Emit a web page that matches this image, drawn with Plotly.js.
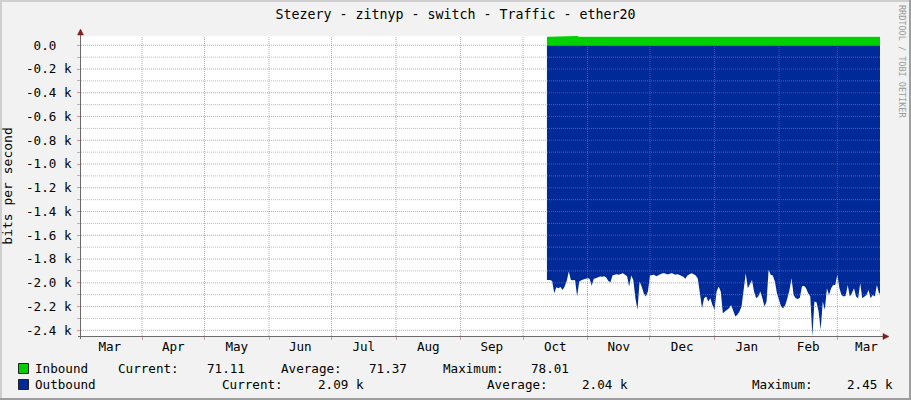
<!DOCTYPE html>
<html>
<head>
<meta charset="utf-8">
<script src="https://cdn.plot.ly/plotly-3.0.1.min.js"></script>
<style>
html,body{margin:0;padding:0;background:#F2F2F2;}
#chart{width:911px;height:400px;}
</style>
</head>
<body>
<div id="chart"></div>
<script>
// ---------------- data ----------------
const dates = [
"2022-10-12 12:00",
"2022-10-13","2022-10-14","2022-10-15","2022-10-16","2022-10-17","2022-10-18","2022-10-19","2022-10-20","2022-10-21","2022-10-22",
"2022-10-23","2022-10-24","2022-10-25","2022-10-26","2022-10-27","2022-10-28","2022-10-29","2022-10-30","2022-10-31",
"2022-11-01","2022-11-02","2022-11-03","2022-11-04","2022-11-05","2022-11-06","2022-11-07","2022-11-08","2022-11-09","2022-11-10",
"2022-11-11","2022-11-12","2022-11-13","2022-11-14","2022-11-15","2022-11-16","2022-11-17","2022-11-18","2022-11-19","2022-11-20",
"2022-11-21","2022-11-22","2022-11-23","2022-11-24","2022-11-25","2022-11-26","2022-11-27","2022-11-28","2022-11-29","2022-11-30",
"2022-12-01","2022-12-02","2022-12-03","2022-12-04","2022-12-05","2022-12-06","2022-12-07","2022-12-08","2022-12-09","2022-12-10",
"2022-12-11","2022-12-12","2022-12-13","2022-12-14","2022-12-15","2022-12-16","2022-12-17","2022-12-18","2022-12-19","2022-12-20",
"2022-12-21","2022-12-22","2022-12-23","2022-12-24","2022-12-25","2022-12-26","2022-12-27","2022-12-28","2022-12-29","2022-12-30","2022-12-31",
"2023-01-01","2023-01-02","2023-01-03","2023-01-04","2023-01-05","2023-01-06","2023-01-07","2023-01-08","2023-01-09","2023-01-10",
"2023-01-11","2023-01-12","2023-01-13","2023-01-14","2023-01-15","2023-01-16","2023-01-17","2023-01-18","2023-01-19","2023-01-20",
"2023-01-21","2023-01-22","2023-01-23","2023-01-24","2023-01-25","2023-01-26","2023-01-27","2023-01-28","2023-01-29","2023-01-30","2023-01-31",
"2023-02-01","2023-02-02","2023-02-03","2023-02-04","2023-02-05","2023-02-06","2023-02-07","2023-02-08","2023-02-09","2023-02-10",
"2023-02-11","2023-02-12","2023-02-13","2023-02-14","2023-02-15","2023-02-16","2023-02-17","2023-02-18","2023-02-19","2023-02-20",
"2023-02-21","2023-02-22","2023-02-23","2023-02-24","2023-02-25","2023-02-26","2023-02-27","2023-02-28",
"2023-03-01","2023-03-02","2023-03-03","2023-03-04","2023-03-05","2023-03-06","2023-03-07","2023-03-08","2023-03-09","2023-03-10",
"2023-03-11","2023-03-12","2023-03-13","2023-03-14","2023-03-15","2023-03-16","2023-03-17","2023-03-18","2023-03-19","2023-03-20","2023-03-21",
"2023-03-21 12:00"
];

const outbound = [
-1976,
-1976,-1976,-1984,-2088,-2037,-2045,-2035,-2060,-2032,-1984,-1905,-1976,-1979,-1976,-2116,-1990,-1979,-1970,-1967,
-1961,-1967,-2024,-1967,-1961,-1955,-1948,-1950,-1945,-1955,-1984,-1995,-1939,-1933,-1928,-1933,-1928,-1919,-1933,-1945,
-2032,-1939,-1976,-2130,-2228,-1990,-2032,-2088,-2116,-2074,
-1939,-1939,-1933,-1945,-1933,-1928,-1919,-1919,-1928,-1928,-1919,-1922,-1933,-1928,-1933,-1939,-1950,-1967,-1939,-1928,
-1919,-1928,-1939,-1967,-2074,-2214,-2130,-2116,-2158,-2130,-2186,
-2228,-2074,-2032,-2074,-2256,-2242,-2228,-2214,-2186,-2228,-2284,-2270,-2242,-2200,-2045,-1919,-2045,-2003,-1976,-2074,
-2130,-2116,-2074,-2130,-2200,-2158,-1891,-1933,-1939,-1990,-2088,
-2144,-2200,-2214,-2186,-2130,-2060,-1961,-2102,-2130,-2136,-2125,-2032,-2025,-2045,-2088,-2116,-2450,-2158,-2164,-2242,
-2396,-2158,-2228,-2045,-2102,-2045,-2018,-2018,
-1933,-2045,-2102,-2116,-2109,-2018,-2116,-2088,-2045,-2116,-2130,-2003,-2130,-2116,-2102,-2060,-2130,-2102,-2116,-2018,-2088,
-2090
];

const inbound = [
70.9,
71.2,70.8,71.5,71.0,71.3,70.9,71.6,71.1,70.7,71.4,71.2,71.0,71.3,71.5,78.0,71.2,70.9,71.1,71.4,
71.3,71.0,71.6,71.2,70.8,71.5,71.1,71.4,71.7,71.0,71.3,71.2,70.9,71.5,71.8,71.1,71.3,71.6,71.0,71.4,
71.2,71.7,71.3,70.9,71.5,71.2,71.0,71.6,71.4,71.1,
71.5,71.3,71.0,71.7,71.2,71.4,71.6,71.1,70.9,71.5,71.3,71.8,71.2,71.0,71.6,71.4,71.1,71.3,71.7,71.5,
71.2,70.8,71.4,71.6,71.9,71.3,71.1,71.5,71.7,71.2,71.4,
71.6,71.3,71.5,71.8,71.2,71.4,71.7,71.0,71.5,71.3,71.6,71.9,71.2,71.4,71.1,71.7,71.5,71.3,71.6,71.2,
71.8,71.4,71.0,71.5,71.7,71.3,71.6,71.1,71.4,71.8,71.2,
71.5,71.3,71.7,71.0,71.6,71.4,71.2,71.8,71.5,71.1,71.6,71.3,71.9,71.4,71.2,71.7,71.5,71.0,71.6,71.3,
71.8,71.4,71.2,71.5,71.7,71.1,71.6,71.3,
71.4,71.6,71.2,71.5,71.8,71.0,71.3,71.7,71.4,71.1,71.6,71.2,71.5,71.3,71.0,71.4,71.2,70.9,71.3,71.0,71.1,
71.1
];

const yTickVals = [0,-200,-400,-600,-800,-1000,-1200,-1400,-1600,-1800,-2000,-2200,-2400];
const yTickText = ["0.0\u00a0\u00a0","-0.2 k","-0.4 k","-0.6 k","-0.8 k","-1.0 k","-1.2 k","-1.4 k","-1.6 k","-1.8 k","-2.0 k","-2.2 k","-2.4 k"];
const yMinorVals = [-100,-300,-500,-700,-900,-1100,-1300,-1500,-1700,-1900,-2100,-2300];
const monthStarts = ["2022-04-01","2022-05-01","2022-06-01","2022-07-01","2022-08-01","2022-09-01","2022-10-01","2022-11-01","2022-12-01","2023-01-01","2023-02-01","2023-03-01"];
const xRange = ["2022-03-02 16:00","2023-03-21 12:00"];
const yRange = [-2448, 78];

const titleText = "Stezery - zitnyp - switch - Traffic - ether20";
const yTitleText = "bits per second";
const seriesNames = ["Inbound","Outbound"];
const statNames = ["Current:","Average:","Maximum:"];
const inboundStats = ["71.11","71.37","78.01"];
const outboundStats = ["2.09 k","2.04 k","2.45 k"];
const watermark = "RRDTOOL / TOBI OETIKER";

// ---------------- styles ----------------
const FONT = "DejaVu Sans Mono";
const GREEN = "#00CF00";
const BLUE = "#002A97";
const MGRID = "rgba(222,79,79,0.6)";
const GRID = "rgba(143,143,143,0.6)";
const ARROW = "#801F1F";
const AXIS = "#6A6A6A";

// pixel helpers (layout only)
const L = 81, R = 31, T = 36, B = 64, W = 911, H = 400;
const PW = W - L - R, PH = H - T - B;
const px = v => (v - L) / PW;
const py = v => (H - B - v) / PH;

const traces = [
  {x: dates, y: outbound, type: "scatter", mode: "lines", fill: "tozeroy",
   fillcolor: BLUE, line: {color: BLUE, width: 0}, hoverinfo: "skip", name: seriesNames[1]},
  {x: dates, y: inbound, type: "scatter", mode: "lines", fill: "tozeroy",
   fillcolor: GREEN, line: {color: GREEN, width: 0}, hoverinfo: "skip", name: seriesNames[0]}
];

const shapes = [];
// grid (drawn above data as rrdtool does)
yMinorVals.forEach(v => shapes.push({type:"line", layer:"above", xref:"paper", yref:"y",
  x0:0, x1:1, y0:v, y1:v, line:{color:GRID, width:1, dash:"1px,1px"}}));
yTickVals.forEach(v => shapes.push({type:"line", layer:"above", xref:"paper", yref:"y",
  x0:0, x1:1, y0:v, y1:v, line:{color:MGRID, width:1, dash:"1px,1px"}}));
monthStarts.forEach(d => shapes.push({type:"line", layer:"above", xref:"x", yref:"paper",
  x0:d, x1:d, y0:0, y1:1, line:{color:MGRID, width:1, dash:"1px,1px"}}));
// axes
shapes.push({type:"line", layer:"above", xref:"paper", yref:"paper",
  x0:px(78), x1:px(884), y0:py(336.5), y1:py(336.5), line:{color:AXIS, width:1}});
shapes.push({type:"line", layer:"above", xref:"paper", yref:"paper",
  x0:px(80.5), x1:px(80.5), y0:py(339), y1:py(33), line:{color:AXIS, width:1}});
// arrows
shapes.push({type:"path", layer:"above", xref:"paper", yref:"paper",
  path:`M ${px(77.5)} ${py(35)} L ${px(80.5)} ${py(29)} L ${px(83.5)} ${py(35)} Z`,
  fillcolor:ARROW, line:{color:ARROW, width:0.5}});
shapes.push({type:"path", layer:"above", xref:"paper", yref:"paper",
  path:`M ${px(883)} ${py(333.5)} L ${px(889)} ${py(336.5)} L ${px(883)} ${py(339.5)} Z`,
  fillcolor:ARROW, line:{color:ARROW, width:0.5}});
// frame shading
shapes.push({type:"rect", layer:"above", xref:"paper", yref:"paper", x0:px(0), x1:px(911), y0:py(0), y1:py(2), fillcolor:"#CFCFCF", line:{width:0}});
shapes.push({type:"rect", layer:"above", xref:"paper", yref:"paper", x0:px(0), x1:px(2), y0:py(0), y1:py(400), fillcolor:"#CFCFCF", line:{width:0}});
shapes.push({type:"rect", layer:"above", xref:"paper", yref:"paper", x0:px(909), x1:px(911), y0:py(0), y1:py(400), fillcolor:"#9E9E9E", line:{width:0}});
shapes.push({type:"rect", layer:"above", xref:"paper", yref:"paper", x0:px(0), x1:px(911), y0:py(398), y1:py(400), fillcolor:"#9E9E9E", line:{width:0}});
// legend boxes
shapes.push({type:"rect", layer:"above", xref:"paper", yref:"paper", x0:px(18.5), x1:px(28.5), y0:py(363.5), y1:py(373.5), fillcolor:GREEN, line:{color:"#222", width:1}});
shapes.push({type:"rect", layer:"above", xref:"paper", yref:"paper", x0:px(18.5), x1:px(28.5), y0:py(379.5), y1:py(389.5), fillcolor:BLUE, line:{color:"#222", width:1}});

const annotations = [];
function txt(t, x, y, opts) {
  annotations.push(Object.assign({text:t, xref:"paper", yref:"paper", x:px(x), y:py(y),
    xanchor:"left", yanchor:"middle", showarrow:false,
    font:{family:FONT, size:12.6, color:"#000"}}, opts || {}));
}
// legend row 1
txt(seriesNames[0], 33, 368);
txt(statNames[0], 116, 368);
txt(inboundStats[0], 205, 368);
txt(statNames[1], 279, 368);
txt(inboundStats[1], 367, 368);
txt(statNames[2], 441, 368);
txt(inboundStats[2], 529, 368);
// legend row 2
txt(seriesNames[1], 33, 384);
txt(statNames[0], 220, 384);
txt(outboundStats[0], 316, 384);
txt(statNames[1], 485, 384);
txt(outboundStats[1], 580, 384);
txt(statNames[2], 750, 384);
txt(outboundStats[2], 845, 384);
// watermark
annotations.push({text:watermark, xref:"paper", yref:"paper", x:px(902), y:py(61),
  xanchor:"center", yanchor:"middle", textangle:90, showarrow:false,
  font:{family:FONT, size:8.5, color:"#9A9A9A"}});

const layout = {
  width: W, height: H,
  margin: {l:L, r:R, t:T, b:B, pad:0},
  paper_bgcolor: "#F2F2F2",
  plot_bgcolor: "#FFFFFF",
  showlegend: false,
  title: {text: titleText, x:0.5, xref:"container", xanchor:"center",
          y: 1 - 14/H, yref:"container", yanchor:"middle",
          font:{family:FONT, size:13.3, color:"#000"}},
  xaxis: {
    type:"date", range:xRange, tickmode:"linear", tick0:"2022-03-01", dtick:"M1",
    tickformat:"%b", ticklabelmode:"period",
    showgrid:false, zeroline:false, showline:false,
    ticks:"outside", ticklen:3, tickcolor:MGRID, tickwidth:1,
    ticklabelstandoff:-4,
    tickfont:{family:FONT, size:12.6, color:"#000"}
  },
  yaxis: {
    range:yRange, tickmode:"array", tickvals:yTickVals, ticktext:yTickText,
    showgrid:false, zeroline:false, showline:false,
    ticks:"outside", ticklen:3, tickcolor:MGRID, tickwidth:1,
    ticklabelstandoff:3,
    minor:{tickmode:"array", tickvals:yMinorVals, ticks:"outside", ticklen:3, tickcolor:GRID, showgrid:false},
    tickfont:{family:FONT, size:12.6, color:"#000"},
    title:{text:yTitleText, standoff:10, font:{family:FONT, size:13, color:"#000"}}
  },
  shapes: shapes,
  annotations: annotations
};

Plotly.newPlot("chart", traces, layout, {staticPlot:true, displayModeBar:false});
</script>
</body>
</html>
